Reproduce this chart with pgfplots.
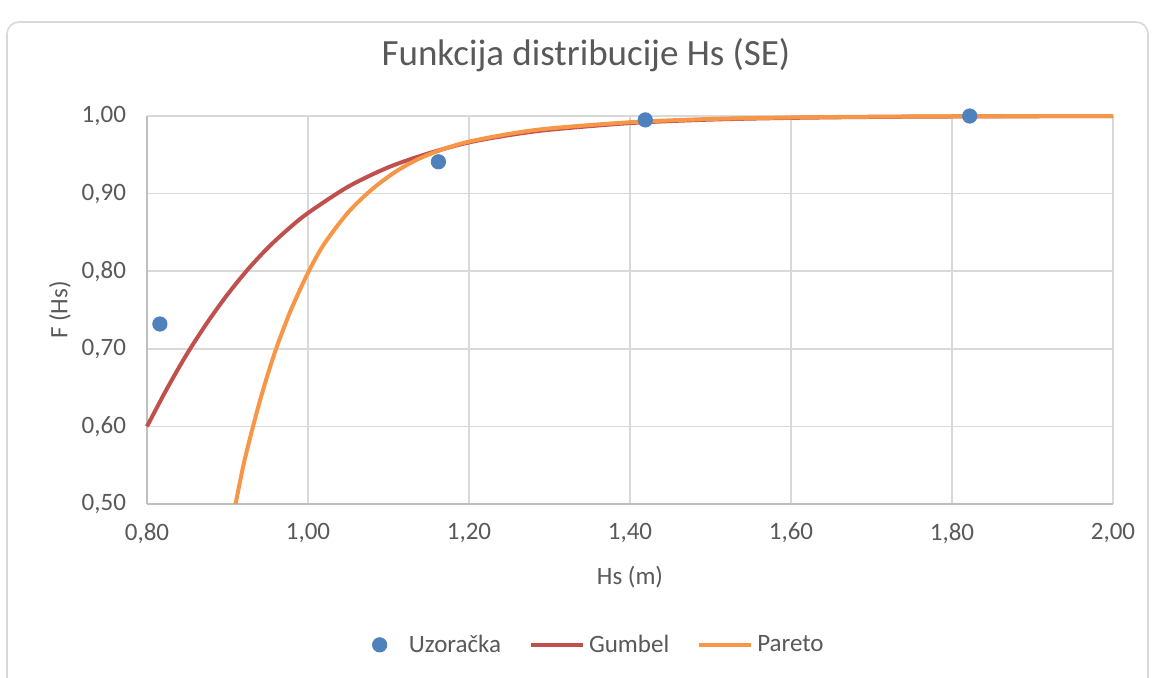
\documentclass[border=0pt]{standalone}
\usepackage{fontspec}
\setmainfont{Carlito}
\usepackage{pgfplots}
\pgfplotsset{compat=1.18}

\definecolor{txt}{HTML}{595959}
\definecolor{gridc}{HTML}{D9D9D9}
\definecolor{axc}{HTML}{BFBFBF}
\definecolor{sample}{HTML}{4F81BD}
\definecolor{gumbel}{HTML}{C0504D}
\definecolor{pareto}{HTML}{F79646}

\pgfplotsset{lineleg/.style={legend image code/.code={\draw[##1] (0pt,0pt) -- (26pt,0pt);}}}

\begin{document}
\begin{tikzpicture}
\useasboundingbox (0pt,0pt) rectangle (576.5pt,-338.5pt);
\draw[gridc, line width=0.8pt, rounded corners=6pt] (3.5pt,-11pt) rectangle (574pt,-350pt);
\node[txt, font=\fontsize{18.5}{22}\selectfont] at (293pt,-27.5pt) {Funkcija distribucije Hs (SE)};

\begin{axis}[
    at={(73.5pt,-252pt)}, anchor=south west,
    scale only axis, width=483pt, height=194pt,
    xmin=0.8, xmax=2.0, ymin=0.5, ymax=1.0,
    xtick={0.8,1.0,...,2.01}, ytick={0.5,0.6,...,1.01},
    grid=major, major grid style={gridc, line width=0.8pt},
    axis x line*=bottom, axis y line*=left,
    axis line style={axc, line width=0.8pt, -},
    major tick length=0pt,
    tick label style={txt, font=\fontsize{12.5}{15}\selectfont},
    /pgf/number format/.cd, fixed, fixed zerofill, precision=2, use comma, assume math mode=true,
    /pgfplots/.cd,
    xticklabel style={yshift=-6pt},
    yticklabel style={xshift=-7pt},
    xlabel={Hs (m)}, ylabel={F (Hs)},
    label style={txt, font=\fontsize{12.5}{15}\selectfont},
    xlabel style={at={(axis description cs:0.5,-0.188)}, anchor=center},
    ylabel style={at={(axis description cs:-0.09,0.5)}, anchor=center},
    legend style={at={(0.469,-0.363)}, anchor=center, draw=none, fill=none,
        legend columns=3, text=txt, font=\fontsize{12.5}{15}\selectfont,
        /tikz/every even column/.append style={column sep=12pt}},
    clip=false,
]
\addplot[only marks, mark=*, mark size=3.6pt, sample, mark options={draw=sample, fill=sample}]
coordinates {(0.816,0.732) (1.162,0.941) (1.419,0.995) (1.822,1.000)};
\addlegendentry{\hspace{9pt}Uzoračka}

\addplot[gumbel, line width=2pt, smooth, lineleg]
coordinates {
(0.800,0.600) (0.825,0.649) (0.850,0.694) (0.875,0.734) (0.900,0.770)
(0.925,0.802) (0.950,0.830) (0.975,0.854) (1.000,0.875) (1.050,0.909)
(1.100,0.934) (1.150,0.952) (1.200,0.966) (1.250,0.9754) (1.300,0.9823)
(1.400,0.9909) (1.500,0.9954) (1.600,0.9976) (1.700,0.9988) (1.800,0.9994)
(1.900,0.9997) (2.000,0.9998)};
\addlegendentry{Gumbel}

\addplot[pareto, line width=2pt, smooth, lineleg]
coordinates {
(0.910,0.500) (0.920,0.551) (0.930,0.593) (0.940,0.632) (0.950,0.667)
(0.960,0.699) (0.970,0.727) (0.980,0.753) (1.000,0.798) (1.020,0.835)
(1.050,0.876) (1.080,0.906) (1.110,0.929) (1.140,0.946) (1.170,0.958)
(1.200,0.967) (1.250,0.977) (1.300,0.984) (1.400,0.992) (1.500,0.9962)
(1.600,0.9981) (1.700,0.9991) (1.800,0.9996) (2.000,0.9999)};
\addlegendentry{Pareto}
\end{axis}
\end{tikzpicture}
\end{document}
